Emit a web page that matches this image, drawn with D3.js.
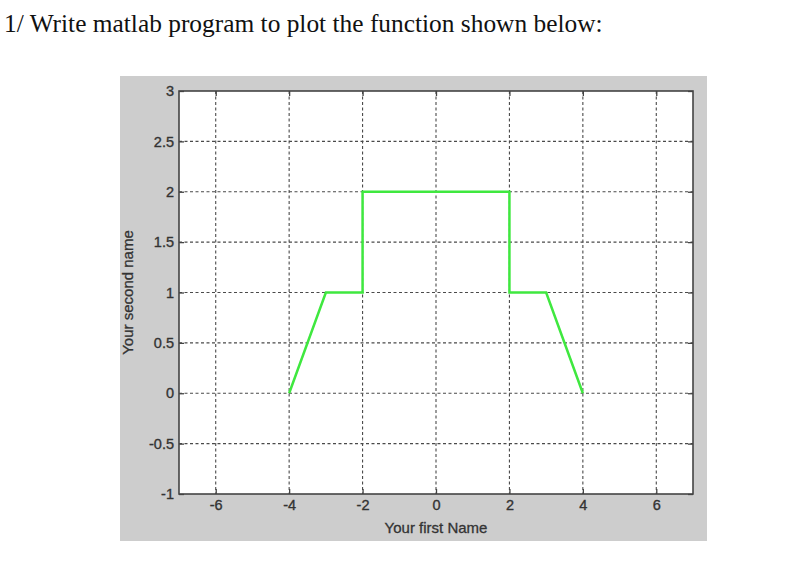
<!DOCTYPE html>
<html><head><meta charset="utf-8">
<script src="https://cdn.jsdelivr.net/npm/d3@7"></script>
<style>body{margin:0;background:#fff;overflow:hidden;}</style>
</head><body><svg id="c" width="800" height="576"></svg>
<script>
// Data
const xValues = [-4, -3, -2, -2, 2, 2, 3, 4];
const yValues = [0, 1, 1, 2, 2, 1, 1, 0];
const xTicks = [-6, -4, -2, 0, 2, 4, 6];
const yTicks = [-1, -0.5, 0, 0.5, 1, 1.5, 2, 2.5, 3];
const xDomain = [-7, 7];
const yDomain = [-1, 3];
const titleText = "1/ Write matlab program to plot the function shown below:";
const xLabelText = "Your first Name";
const yLabelText = "Your second name";

const svg = d3.select("#c");
const L = 179, R = 693, T = 91, B = 494;
const x = d3.scaleLinear().domain(xDomain).range([L, R]);
const y = d3.scaleLinear().domain(yDomain).range([B, T]);

// title
svg.append("text").attr("x", 4).attr("y", 31.5)
  .attr("font-family", "'Liberation Serif','Times New Roman',serif")
  .attr("font-size", 25.4).attr("fill", "#111").text(titleText);

// figure gray background
svg.append("rect").attr("x", 120).attr("y", 76).attr("width", 587).attr("height", 465).attr("fill", "#cdcdcd");

// axes white area
svg.append("rect").attr("x", L).attr("y", T).attr("width", R - L).attr("height", B - T).attr("fill", "#fff");

// grid
const grid = svg.append("g").attr("stroke", "#4a4a4a").attr("stroke-width", 1.1).attr("stroke-dasharray", "3,2.5");
grid.selectAll("line.v").data(xTicks).join("line").attr("class", "v")
  .attr("x1", d => x(d)).attr("x2", d => x(d)).attr("y1", T).attr("y2", B);
grid.selectAll("line.h").data(yTicks.filter(d => d > yDomain[0] && d < yDomain[1])).join("line").attr("class", "h")
  .attr("x1", L).attr("x2", R).attr("y1", d => y(d)).attr("y2", d => y(d));

// data line
const pts = xValues.map((v, i) => [v, yValues[i]]);
svg.append("path").datum(pts)
  .attr("d", d3.line().x(d => x(d[0])).y(d => y(d[1])))
  .attr("fill", "none").attr("stroke", "#3fe83f").attr("stroke-width", 2.5)
  .attr("stroke-linejoin", "miter");

// axes with inside ticks
const fontFam = "'Liberation Sans',Arial,Helvetica,sans-serif";
const tickLen = 5;
const gx = svg.append("g").attr("transform", `translate(0,${B})`)
  .call(d3.axisBottom(x).tickValues(xTicks).tickSizeInner(-tickLen).tickSizeOuter(0).tickPadding(6).tickFormat(d => String(d)));
const gxTop = svg.append("g").attr("transform", `translate(0,${T})`)
  .call(d3.axisTop(x).tickValues(xTicks).tickSizeInner(-tickLen).tickSizeOuter(0).tickFormat(""));
const gy = svg.append("g").attr("transform", `translate(${L},0)`)
  .call(d3.axisLeft(y).tickValues(yTicks).tickSizeInner(-tickLen).tickSizeOuter(0).tickPadding(5).tickFormat(d => String(d)));
const gyR = svg.append("g").attr("transform", `translate(${R},0)`)
  .call(d3.axisRight(y).tickValues(yTicks).tickSizeInner(-tickLen).tickSizeOuter(0).tickFormat(""));

[gx, gxTop, gy, gyR].forEach(g => {
  g.selectAll(".domain").remove();
  g.selectAll(".tick line").attr("stroke", "#444").attr("stroke-width", 1.3);
  g.selectAll(".tick text").attr("font-family", fontFam).attr("font-size", 14.5).attr("fill", "#333")
    .attr("stroke", "#333").attr("stroke-width", 0.35);
});

// box
svg.append("rect").attr("x", L).attr("y", T).attr("width", R - L).attr("height", B - T)
  .attr("fill", "none").attr("stroke", "#444").attr("stroke-width", 1.6);

// axis labels
svg.append("text").attr("x", x(0)).attr("y", 533).attr("text-anchor", "middle")
  .attr("font-family", fontFam).attr("font-size", 15).attr("fill", "#333")
  .attr("stroke", "#333").attr("stroke-width", 0.3).text(xLabelText);
svg.append("text").attr("transform", `translate(133,${(T + B) / 2}) rotate(-90)`).attr("text-anchor", "middle")
  .attr("font-family", fontFam).attr("font-size", 15).attr("fill", "#333")
  .attr("stroke", "#333").attr("stroke-width", 0.3).text(yLabelText);
</script>
</body></html>
